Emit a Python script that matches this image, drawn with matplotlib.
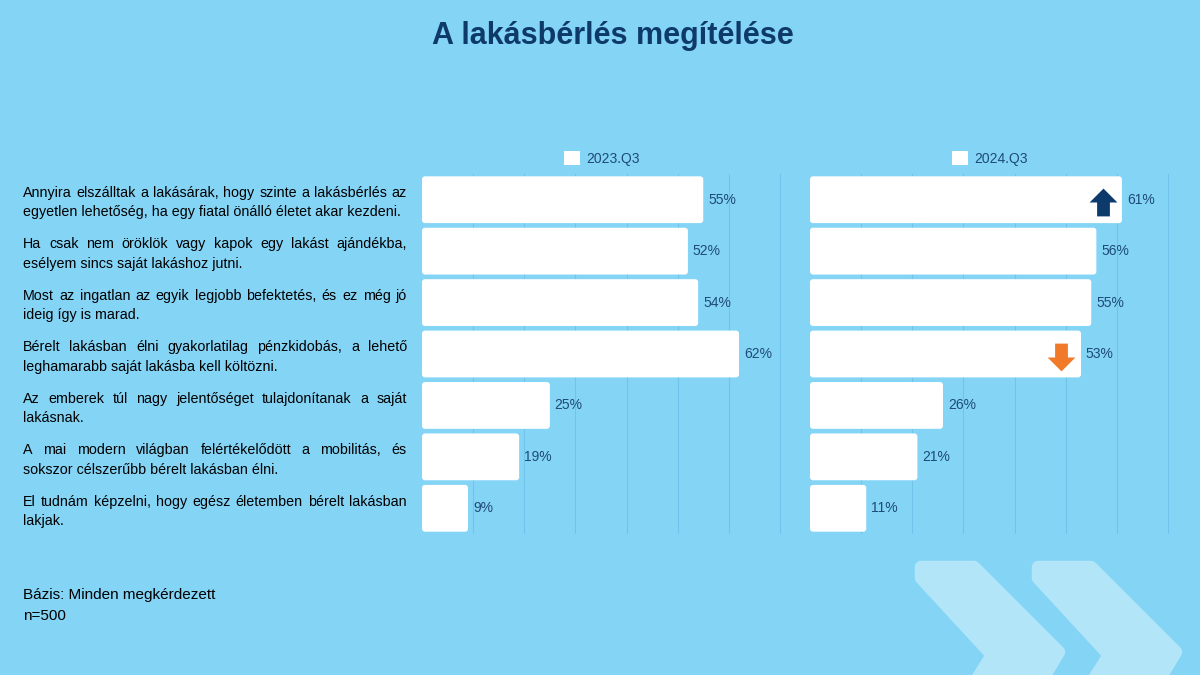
import matplotlib
matplotlib.use("Agg")
import matplotlib.pyplot as plt
from matplotlib.patches import FancyBboxPatch, Polygon
from matplotlib.path import Path

plt.rcParams['font.family'] = ['Liberation Sans', 'DejaVu Sans']

# data
statements = [
    "Annyira elszálltak a lakásárak, hogy szinte a lakásbérlés az\negyetlen lehetőség, ha egy fiatal önálló életet akar kezdeni.",
    "Ha csak nem öröklök vagy kapok egy lakást ajándékba,\nesélyem sincs saját lakáshoz jutni.",
    "Most az ingatlan az egyik legjobb befektetés, és ez még jó\nideig így is marad.",
    "Bérelt lakásban élni gyakorlatilag pénzkidobás, a lehető\nleghamarabb saját lakásba kell költözni.",
    "Az emberek túl nagy jelentőséget tulajdonítanak a saját\nlakásnak.",
    "A mai modern világban felértékelődött a mobilitás, és\nsokszor célszerűbb bérelt lakásban élni.",
    "El tudnám képzelni, hogy egész életemben bérelt lakásban\nlakjak.",
]
periods = ["2023.Q3", "2024.Q3"]
values_2023 = [55, 52, 54, 62, 25, 19, 9]
values_2024 = [61, 56, 55, 53, 26, 21, 11]
# significant change vs. previous wave (only shown on 2024 panel)
change_2024 = ["up", None, None, "down", None, None, None]

BG = "#84d4f6"
GRID = "#70c4ec"
TXT_BLUE = "#1f4a78"
TITLE_BLUE = "#0e3a6a"
UP_COL = "#0b3a6b"
DOWN_COL = "#f07a2a"
CHEV = "#b3e5f9"

W, H = 1200, 675
fig = plt.figure(figsize=(12, 6.75), dpi=100)
fig.patch.set_facecolor(BG)

# decorative chevrons (bottom right)
for dx in (0, 117):
    pts = [(921 + dx, 567), (974 + dx, 567), (1059 + dx, 652), (1036 + dx, 690),
           (970 + dx, 690), (992 + dx, 655), (921 + dx, 578)]
    fig.patches.append(Polygon([(x / W, 1 - y / H) for x, y in pts], closed=True,
                               transform=fig.transFigure, facecolor=CHEV,
                               edgecolor=CHEV, linewidth=9, joinstyle='round',
                               zorder=0))

fig.text(613 / W, 1 - 36 / H, "A lakásbérlés megítélése", ha='center', va='center',
         fontsize=22, fontweight='bold', color=TITLE_BLUE)

ax_top, ax_bot = 174, 534
ax1 = fig.add_axes([422 / W, 1 - ax_bot / H, 360 / W, (ax_bot - ax_top) / H])
ax2 = fig.add_axes([810 / W, 1 - ax_bot / H, 360 / W, (ax_bot - ax_top) / H])
xmax = 70.4

up_path = Path([(-0.5, 0.0), (0.0, 0.5), (0.5, 0.0), (0.23, 0.0), (0.23, -0.5),
                (-0.23, -0.5), (-0.23, 0.0), (-0.5, 0.0)], closed=True)
down_path = Path([(x, -y) for x, y in up_path.vertices], closed=True)

rows = list(range(len(statements)))
for ax, vals, period in ((ax1, values_2023, periods[0]), (ax2, values_2024, periods[1])):
    ax.set_facecolor('none')
    ax.set_xlim(0, xmax)
    ax.set_ylim(len(rows) - 0.5, -0.5)
    for s in ax.spines.values():
        s.set_visible(False)
    ax.set_xticks(range(10, 71, 10))
    ax.set_yticks([])
    ax.tick_params(axis='x', length=0, labelbottom=False)
    ax.grid(axis='x', color=GRID, linewidth=0.8)
    ax.set_axisbelow(True)
    bars = ax.barh(rows, vals, height=0.91, color='white', label=period)
    # pixel scale to keep the corner rounding circular
    px_x = 360 / xmax
    px_y = (ax_bot - ax_top) / len(rows)
    r = 3 / px_x
    for b in bars:
        b.set_visible(False)
        ax.add_patch(FancyBboxPatch((b.get_x(), b.get_y()), b.get_width(), b.get_height(),
                                    boxstyle=f"round,pad=0,rounding_size={r}",
                                    mutation_aspect=px_x / px_y,
                                    facecolor='white', edgecolor='none', zorder=2))
        ax.annotate(f"{b.get_width():.0f}%", (b.get_width(), b.get_y() + b.get_height() / 2),
                    xytext=(3.5, 0), textcoords='offset points', va='center', ha='left',
                    fontsize=10, color=TXT_BLUE)
    leg = ax.legend(handles=[bars], loc='lower center', bbox_to_anchor=(0.5, 1.0),
                    frameon=False, fontsize=10, handlelength=1.15, handleheight=1.15,
                    handletextpad=0.4, borderaxespad=0.2)
    for t in leg.get_texts():
        t.set_color(TXT_BLUE)
    for h in leg.legend_handles:
        h.set_visible(True)

for i, ch in enumerate(change_2024):
    if ch == "up":
        ax2.plot(values_2024[i] - 3.8, i + 0.05, marker=up_path, markersize=20,
                 color=UP_COL, markeredgewidth=0, zorder=5)
    elif ch == "down":
        ax2.plot(values_2024[i] - 3.9, i + 0.05, marker=down_path, markersize=20,
                 color=DOWN_COL, markeredgewidth=0, zorder=5)

# justified category labels
renderer = fig.canvas.get_renderer()
x0, x1 = 23, 407
line_gap = 19.5
lab_size = 10.3
for i, label in enumerate(statements):
    yc = ax1.transData.transform((0, i))[1] - 3  # display px from bottom
    lines = label.split("\n")
    n = len(lines)
    for k, line in enumerate(lines):
        y = yc + ((n - 1) / 2 - k) * line_gap
        words = line.split()
        if k == n - 1 or len(words) == 1:
            fig.text(x0 / W, y / H, line, ha='left', va='center', fontsize=lab_size,
                     color='black')
            continue
        ts = [fig.text(0, y / H, w, ha='left', va='center', fontsize=lab_size, color='black')
              for w in words]
        widths = [t.get_window_extent(renderer).width for t in ts]
        gap = (x1 - x0 - sum(widths)) / (len(words) - 1)
        x = x0
        for t, wd in zip(ts, widths):
            t.set_x(x / W)
            x += wd + gap

fig.text(23 / W, 1 - 595 / H, "Bázis: Minden megkérdezett", ha='left', va='center',
         fontsize=11, color='black')
fig.text(23 / W, 1 - 616 / H, "n=500", ha='left', va='center', fontsize=11, color='black')

fig.savefig("out.png", dpi=100, facecolor=BG)
